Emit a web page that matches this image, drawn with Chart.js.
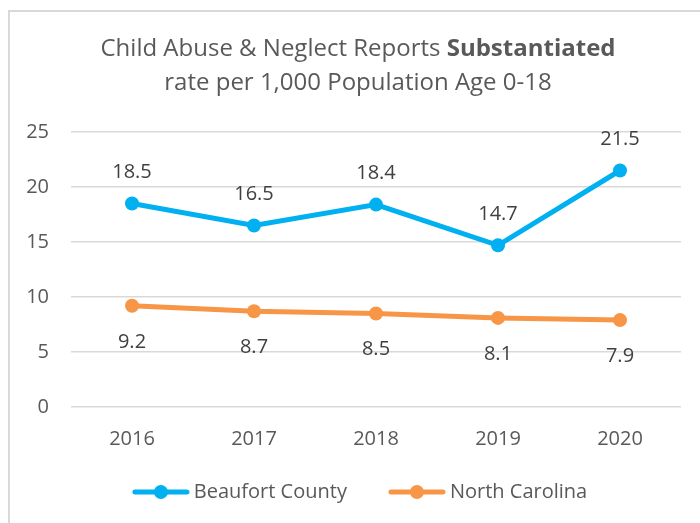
<!DOCTYPE html>
<html>
<head>
<meta charset="utf-8">
<script src="https://cdn.jsdelivr.net/npm/chart.js@4/dist/chart.umd.min.js"></script>
<style>
  html, body { margin: 0; padding: 0; background: #fff; overflow: hidden; }
  #frame {
    position: absolute; left: 8px; top: 10px; width: 800px; height: 600px;
    border-left: 2px solid #d9d9d9; border-top: 2px solid #d9d9d9;
  }
  #wrap { position: absolute; left: 0; top: 0; width: 700px; height: 523px; }
  #title {
    position: absolute; left: 8px; width: 700px; top: 30px;
    text-align: center; font-family: "Open Sans", sans-serif; font-size: 24px;
    line-height: 34px; color: #595959;
  }
</style>
</head>
<body>
<div id="frame"></div>
<div id="wrap"><canvas id="chart"></canvas></div>
<div id="title">Child Abuse &amp; Neglect Reports <b>Substantiated</b><br>rate per 1,000 Population Age 0-18</div>
<script>
// データ
const years = ["2016", "2017", "2018", "2019", "2020"];
const beaufort = [18.5, 16.5, 18.4, 14.7, 21.5];
const northCarolina = [9.2, 8.7, 8.5, 8.1, 7.9];
const seriesNames = ["Beaufort County", "North Carolina"];
const colors = ["#00b0f0", "#f79646"];

const FONT = "'Open Sans', sans-serif";

// 凡例用アイコン（線＋丸）。左側の透明部分は項目間の余白、右端は文字側へ少しはみ出す
function makeIcon(color) {
  const c = document.createElement("canvas");
  c.width = 94; c.height = 16;
  const ctx = c.getContext("2d");
  ctx.strokeStyle = color;
  ctx.lineWidth = 5;
  ctx.lineCap = "round";
  ctx.beginPath();
  ctx.moveTo(39, 8); ctx.lineTo(91, 8);
  ctx.stroke();
  ctx.fillStyle = color;
  ctx.beginPath();
  ctx.arc(65, 8, 7, 0, Math.PI * 2);
  ctx.fill();
  return c;
}
const icons = colors.map(makeIcon);

// データラベル（上：Beaufort、下：NC）
const labelOffsets = [-31, 36];
const valueLabels = {
  id: "valueLabels",
  afterDatasetsDraw(chart) {
    const ctx = chart.ctx;
    ctx.save();
    ctx.font = "20px " + FONT;
    ctx.fillStyle = "#404040";
    ctx.textAlign = "center";
    ctx.textBaseline = "middle";
    chart.data.datasets.forEach((ds, i) => {
      chart.getDatasetMeta(i).data.forEach((pt, j) => {
        ctx.fillText(ds.data[j].toFixed(1), pt.x, pt.y + labelOffsets[i]);
      });
    });
    ctx.restore();
  }
};

new Chart(document.getElementById("chart"), {
  type: "line",
  data: {
    labels: years,
    datasets: [beaufort, northCarolina].map((vals, i) => ({
      label: seriesNames[i],
      data: vals,
      borderColor: colors[i],
      backgroundColor: colors[i],
      borderWidth: 5,
      pointRadius: 7,
      pointHoverRadius: 7,
      pointBorderWidth: 0,
      tension: 0
    }))
  },
  options: {
    responsive: true,
    maintainAspectRatio: false,
    animation: false,
    layout: { padding: { top: 132, left: 8, right: 19, bottom: 11 } },
    scales: {
      x: {
        offset: true,
        grid: { display: false, drawTicks: false },
        border: { display: false },
        ticks: { padding: 20, color: "#595959", font: { family: FONT, size: 20 } }
      },
      y: {
        min: 0, max: 25,
        afterFit(scale) { scale.width = 63; },
        ticks: { stepSize: 5, padding: 22, color: "#595959", font: { family: FONT, size: 20 } },
        grid: { color: "#d9d9d9", lineWidth: 1.5, drawTicks: false },
        border: { display: false }
      }
    },
    plugins: {
      title: { display: false },
      tooltip: { enabled: false },
      legend: {
        position: "bottom",
        labels: {
          usePointStyle: true,
          pointStyleWidth: 82,
          padding: 11,
          color: "#595959",
          font: { family: FONT, size: 20 },
          generateLabels(chart) {
            const items = Chart.defaults.plugins.legend.labels.generateLabels(chart);
            items.forEach((it, i) => { it.pointStyle = icons[i]; });
            return items;
          }
        }
      }
    }
  },
  plugins: [valueLabels]
});
</script>
</body>
</html>
